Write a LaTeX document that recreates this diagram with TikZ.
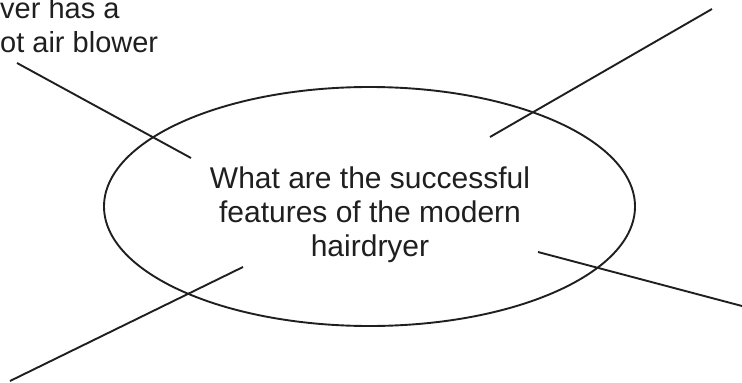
\documentclass[tikz,border=0pt]{standalone}
\usepackage{fontspec}
\setmainfont{Liberation Sans}
\usetikzlibrary{shapes.geometric}
\begin{document}
\begin{tikzpicture}[x=1pt,y=-1pt,
  ink/.style={line width=1.9pt,draw=black!88},
  lbl/.style={anchor=base,inner sep=0pt,font=\fontsize{30}{34}\selectfont,text=black!88},
  side/.style={anchor=base west,inner sep=0pt,font=\fontsize{29}{33}\selectfont,text=black!88}]
\useasboundingbox (0,0) rectangle (742,383);
\node[ellipse,ink,minimum width=531pt,minimum height=239pt,inner sep=0pt] (e) at (369.5,206.5) {};
\node[lbl] (q1) at (370,188) {What are the successful};
\node[lbl] (q2) at (370,222) {features of the modern};
\node[lbl] (q3) at (370,256) {hairdryer};
\node[side] (t1) at (0,18) {ver has a};
\node[side] (t2) at (0,52) {ot air blower};
\coordinate (tlA) at (17,63);   \coordinate (tlB) at (191,158);
\coordinate (trA) at (490,137); \coordinate (trB) at (712,9);
\coordinate (blA) at (243,267); \coordinate (blB) at (10,381);
\coordinate (brA) at (538,252); \coordinate (brB) at (742,306);
\draw[ink] (tlA) -- (tlB);
\draw[ink] (trA) -- (trB);
\draw[ink] (blA) -- (blB);
\draw[ink] (brA) -- (brB);
\end{tikzpicture}
\end{document}
